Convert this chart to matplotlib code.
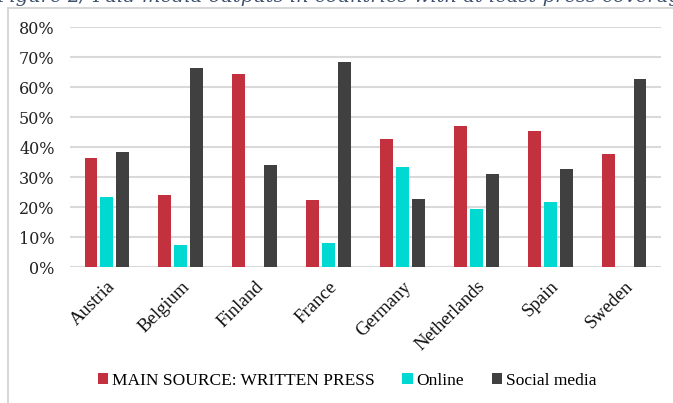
import matplotlib.pyplot as plt
import numpy as np
from matplotlib.patches import Rectangle

# data
countries = ["Austria", "Belgium", "Finland", "France", "Germany",
             "Netherlands", "Spain", "Sweden"]
written_press = [36.5, 24.0, 64.5, 22.3, 42.8, 47.0, 45.3, 37.8]
online = [23.4, 7.3, 0.0, 7.9, 33.4, 19.2, 21.7, 0.0]
social_media = [38.4, 66.3, 34.0, 68.3, 22.8, 31.0, 32.8, 62.6]
y_ticks = [0, 10, 20, 30, 40, 50, 60, 70, 80]

series = [
    ("MAIN SOURCE: WRITTEN PRESS", written_press, "#C3313F"),
    ("Online", online, "#00D9D2"),
    ("Social media", social_media, "#404040"),
]

fig = plt.figure(figsize=(6.73, 4.03), dpi=100)
ax = fig.add_axes([70 / 673, 136 / 403, 591 / 673, 240 / 403])

x = np.arange(len(countries))
width = 0.175
step = 0.216
for i, (name, vals, color) in enumerate(series):
    vals = np.array(vals) / 100
    mask = vals > 0
    ax.bar(x[mask] + (i - 1) * step, vals[mask], width, color=color,
           label=name, zorder=3)

ax.set_xlim(-0.5, len(countries) - 0.5)
ax.set_ylim(0, 0.8)
ax.set_yticks(np.array(y_ticks) / 100)
ax.set_yticklabels([f"{t}%" for t in y_ticks], family="DejaVu Serif",
                   fontsize=11.5, color="#222222")
ax.set_xticks(x)
ax.set_xticklabels(countries, rotation=45, ha="right", va="top",
                   rotation_mode="anchor", family="Liberation Serif",
                   fontsize=13.5, color="#111111")
ax.tick_params(axis="y", length=0, pad=11)
ax.tick_params(axis="x", length=0, pad=8)
ax.grid(axis="y", color="#D9D9D9", linewidth=1.5, zorder=0)
for s in ax.spines.values():
    s.set_visible(False)

leg = fig.legend(loc="center", bbox_to_anchor=(347 / 673, 1 - 381 / 403),
                 ncol=3, frameon=False, handlelength=0.6, handleheight=0.6,
                 handletextpad=0.2, columnspacing=1.6,
                 prop={"family": "Liberation Serif", "size": 12.5})

# chart frame and the clipped caption above it
fig.add_artist(Rectangle((8 / 673, -0.1), 1.2, 1 - 8 / 403 + 0.1,
                         transform=fig.transFigure, fill=False,
                         edgecolor="#D0D0D0", linewidth=1.2))
fig.text(-0.005, 1 - 1.5 / 403,
         "Figure 2/ Paid media outputs in countries with at least press coverage",
         family="DejaVu Serif", style="italic", fontsize=14,
         color="#3E5170", va="baseline", ha="left")

fig.savefig("out.png", dpi=100)
